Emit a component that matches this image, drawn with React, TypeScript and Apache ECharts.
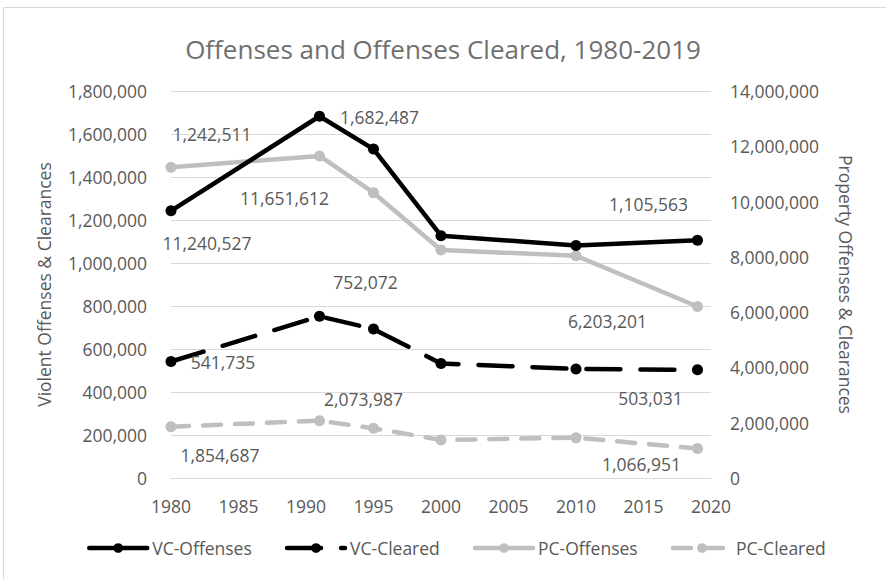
import React, { useEffect, useRef } from "react";
import * as echarts from "echarts";

const years = [1980, 1991, 1995, 2000, 2010, 2019];
const vcOffenses = [1242511, 1682487, 1530000, 1127000, 1081000, 1105563];
const vcCleared = [541735, 752072, 693000, 533000, 507000, 503031];
const pcOffenses = [11240527, 11651612, 10320000, 8250000, 8040000, 6203201];
const pcCleared = [1854687, 2073987, 1800000, 1375000, 1460000, 1066951];
const xTicks = { min: 1980, max: 2020, interval: 5 };
const leftTicks = { min: 0, max: 1800000, interval: 200000 };
const rightTicks = { min: 0, max: 14000000, interval: 2000000 };

// label offsets (px) for labelled points (index -> [dx, dy])
const vcOffLabels: Record<number, number[]> = { 0: [41, -77], 1: [60, 1], 5: [-49, -36] };
const pcOffLabels: Record<number, number[]> = { 0: [36, 76], 1: [-35, 42], 5: [-90, 14] };
const vcClLabels: Record<number, number[]> = { 0: [52, 0], 1: [46, -34], 5: [-47, 28] };
const pcClLabels: Record<number, number[]> = { 0: [49, 28], 1: [44, -22], 5: [-56, 15] };

const FONT = "Open Sans";
const TXT = "#595959";
const fmt = (v: number) => Number(v).toLocaleString("en-US");

function buildData(vals: number[], labels: Record<number, number[]>) {
  return vals.map((v, i) => {
    const item: any = { value: [years[i], v] };
    if (labels[i]) {
      item.label = {
        show: true,
        position: "inside",
        offset: labels[i],
        align: "center",
        verticalAlign: "middle",
        formatter: (p: any) => fmt(p.value[1]),
        color: TXT,
        fontFamily: FONT,
        fontSize: 17.5,
      };
    }
    return item;
  });
}

export default function App() {
  const ref = useRef<HTMLDivElement>(null);
  useEffect(() => {
    if (!ref.current) return;
    const chart = echarts.init(ref.current, undefined, { renderer: "svg" });
    const black = "#000000";
    const gray = "#bfbfbf";
    const mk = (name: string, vals: number[], labels: Record<number, number[]>, color: string, dashed: any, yAxisIndex: number, z: number) => ({
      name,
      type: "line",
      yAxisIndex,
      z,
      symbol: "circle",
      symbolSize: 11,
      itemStyle: { color },
      lineStyle: { color, width: 4.5, type: dashed || "solid", cap: "round" },
      label: { show: false },
      data: buildData(vals, labels),
    });
    chart.setOption({
      animation: false,
      backgroundColor: "#ffffff",
      textStyle: { fontFamily: FONT },
      title: {
        text: "Offenses and Offenses Cleared, 1980-2019",
        left: "center",
        top: 31,
        textStyle: { color: "#707070", fontSize: 26, fontWeight: "normal", fontFamily: FONT },
      },
      graphic: [
        {
          type: "rect",
          shape: { x: 3.5, y: 7.5, width: 900, height: 600 },
          style: { fill: "none", stroke: "#d9d9d9", lineWidth: 1 },
          silent: true,
        },
      ],
      legend: {
        bottom: 17,
        left: 82,
        itemWidth: 58,
        itemHeight: 12,
        itemGap: 33,
        data: ["VC-Offenses", "VC-Cleared", "PC-Offenses", "PC-Cleared"],
        lineStyle: { width: 4.5 },
        textStyle: { color: TXT, fontSize: 17.5, fontFamily: FONT },
      },
      grid: { left: 171, right: 175, top: 91, height: 387, containLabel: false },
      xAxis: {
        type: "value",
        min: xTicks.min,
        max: xTicks.max,
        interval: xTicks.interval,
        axisLine: { show: true, lineStyle: { color: "#d9d9d9", width: 1 } },
        axisTick: { show: false },
        splitLine: { show: false },
        axisLabel: { color: TXT, fontSize: 17.5, fontFamily: FONT, margin: 19, formatter: (v: number) => String(v) },
      },
      yAxis: [
        {
          type: "value",
          min: leftTicks.min,
          max: leftTicks.max,
          interval: leftTicks.interval,
          name: "Violent Offenses & Clearances",
          nameLocation: "middle",
          nameRotate: 90,
          nameGap: 118,
          nameTextStyle: { color: TXT, fontSize: 17.5, fontFamily: FONT },
          axisLine: { show: false },
          axisTick: { show: false },
          splitLine: { show: true, lineStyle: { color: "#d9d9d9", width: 1 } },
          axisLabel: { color: TXT, fontSize: 17.5, fontFamily: FONT, margin: 24, formatter: fmt },
        },
        {
          type: "value",
          min: rightTicks.min,
          max: rightTicks.max,
          interval: rightTicks.interval,
          name: "Property Offenses & Clearances",
          nameLocation: "middle",
          nameRotate: -90,
          nameGap: 126,
          nameTextStyle: { color: TXT, fontSize: 17.5, fontFamily: FONT },
          axisLine: { show: false },
          axisTick: { show: false },
          splitLine: { show: false },
          axisLabel: { color: TXT, fontSize: 17.5, fontFamily: FONT, margin: 19, formatter: fmt },
        },
      ],
      series: [
        mk("PC-Offenses", pcOffenses, pcOffLabels, gray, null, 1, 2),
        mk("PC-Cleared", pcCleared, pcClLabels, gray, [18, 14], 1, 2),
        mk("VC-Offenses", vcOffenses, vcOffLabels, black, null, 0, 3),
        mk("VC-Cleared", vcCleared, vcClLabels, black, [34, 20], 0, 3),
      ],
    });
    return () => chart.dispose();
  }, []);
  return (
    <div
      ref={ref}
      style={{ position: "fixed", left: 0, top: 0, width: 886, height: 579, background: "#fff" }}
    />
  );
}
